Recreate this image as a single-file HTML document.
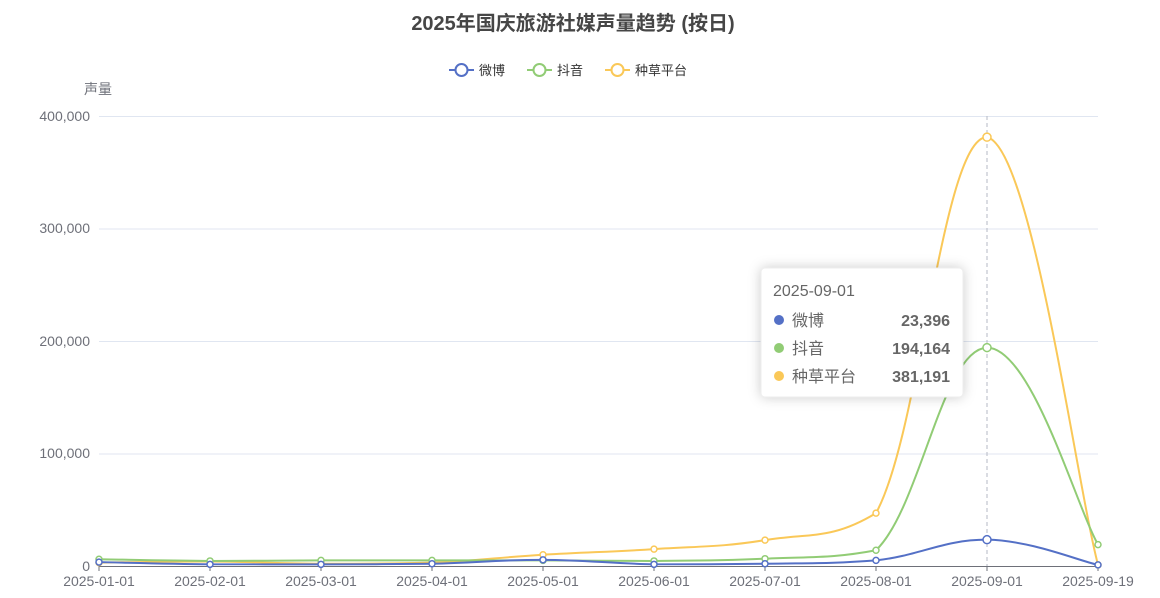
<!DOCTYPE html>
<html><head><meta charset="utf-8"><style>
body{margin:0;background:#fff;font-family:"Liberation Sans","Noto Sans CJK SC",sans-serif}
</style></head><body>
<svg id="s" width="1160" height="593" xmlns="http://www.w3.org/2000/svg" font-family="Liberation Sans, Noto Sans CJK SC, sans-serif">
<text x="573" y="30" text-anchor="middle" font-size="20" font-weight="bold" fill="#464646">2025年国庆旅游社媒声量趋势 (按日)</text>
<g font-size="13" fill="#333">
<line x1="449" y1="70" x2="474" y2="70" stroke="#5470c6" stroke-width="2"/><circle cx="461.5" cy="70" r="6" fill="#fff" stroke="#5470c6" stroke-width="2"/><text x="479" y="75">微博</text>
<line x1="527" y1="70" x2="552" y2="70" stroke="#91cc75" stroke-width="2"/><circle cx="539.5" cy="70" r="6" fill="#fff" stroke="#91cc75" stroke-width="2"/><text x="557" y="75">抖音</text>
<line x1="605" y1="70" x2="630" y2="70" stroke="#fac858" stroke-width="2"/><circle cx="617.5" cy="70" r="6" fill="#fff" stroke="#fac858" stroke-width="2"/><text x="635" y="75">种草平台</text>
</g>
<text x="84" y="94" font-size="14" fill="#6e7079">声量</text>
<g stroke="#e0e6f1" stroke-width="1">
<line x1="99" y1="116.5" x2="1098" y2="116.5"/><line x1="99" y1="229" x2="1098" y2="229"/><line x1="99" y1="341.5" x2="1098" y2="341.5"/><line x1="99" y1="454" x2="1098" y2="454"/>
</g>
<g font-size="14" fill="#6e7079" text-anchor="end">
<text x="90" y="121">400,000</text><text x="90" y="233">300,000</text><text x="90" y="346">200,000</text><text x="90" y="458">100,000</text><text x="90" y="571">0</text>
</g>
<line x1="987" y1="116" x2="987" y2="566" stroke="#b6bac4" stroke-dasharray="4,3"/>
<line x1="99" y1="566.5" x2="1098" y2="566.5" stroke="#6e7079"/>
<g id="ticks"></g>
<g id="series"></g>
<g>
<rect x="761" y="268" width="202" height="129" rx="4" fill="#fff" stroke="#eee" style="filter:drop-shadow(0 0 6px rgba(0,0,0,0.2))"/>
<text x="773" y="296" font-size="16" fill="#666">2025-09-01</text>
<circle cx="779" cy="320" r="5" fill="#5470c6"/><text x="792" y="326" font-size="16" fill="#666">微博</text><text x="950" y="326" font-size="16" font-weight="bold" fill="#666" text-anchor="end">23,396</text>
<circle cx="779" cy="348" r="5" fill="#91cc75"/><text x="792" y="354" font-size="16" fill="#666">抖音</text><text x="950" y="354" font-size="16" font-weight="bold" fill="#666" text-anchor="end">194,164</text>
<circle cx="779" cy="376" r="5" fill="#fac858"/><text x="792" y="382" font-size="16" fill="#666">种草平台</text><text x="950" y="382" font-size="16" font-weight="bold" fill="#666" text-anchor="end">381,191</text>
</g>
</svg>
<script>
var NS="http://www.w3.org/2000/svg";
var labels=["2025-01-01","2025-02-01","2025-03-01","2025-04-01","2025-05-01","2025-06-01","2025-07-01","2025-08-01","2025-09-01","2025-09-19"];
var xs=labels.map(function(_,i){return 99+i*111;});
var t=document.getElementById("ticks");
labels.forEach(function(l,i){
 var ln=document.createElementNS(NS,"line");ln.setAttribute("x1",xs[i]);ln.setAttribute("x2",xs[i]);ln.setAttribute("y1",566);ln.setAttribute("y2",571);ln.setAttribute("stroke","#6e7079");t.appendChild(ln);
 var tx=document.createElementNS(NS,"text");tx.setAttribute("x",xs[i]);tx.setAttribute("y",586);tx.setAttribute("font-size","14");tx.setAttribute("fill","#6e7079");tx.setAttribute("text-anchor","middle");tx.textContent=l;t.appendChild(tx);
});
function Y(v){return 566-v*450/400000;}
var data=[
 ["#fac858",[3000,4000,2000,3000,10000,15000,23000,47000,381191,1000]],
 ["#91cc75",[6000,4500,5000,5000,5000,4500,6500,14000,194164,19000]],
 ["#5470c6",[3500,1500,1500,2000,5500,1500,2000,5000,23396,1000]]
];
function cl(v,a,b){var lo=Math.min(a,b),hi=Math.max(a,b);return Math.max(lo,Math.min(hi,v));}
var g=document.getElementById("series");
data.forEach(function(d){
 var p=d[1].map(function(v,i){return [xs[i],Y(v)];});
 var k=0.2,s="M"+p[0][0]+","+p[0][1];
 for(var i=0;i<p.length-1;i++){
  var a=p[i-1]||p[i],b=p[i],c=p[i+1],e=p[i+2]||c;
  var c1=[b[0]+(c[0]-a[0])*k,cl(b[1]+(c[1]-a[1])*k,b[1],c[1])],c2=[c[0]-(e[0]-b[0])*k,cl(c[1]-(e[1]-b[1])*k,b[1],c[1])];
  s+=" C"+c1+" "+c2+" "+c;
 }
 var path=document.createElementNS(NS,"path");path.setAttribute("d",s);path.setAttribute("fill","none");path.setAttribute("stroke",d[0]);path.setAttribute("stroke-width","2");g.appendChild(path);
 p.forEach(function(q,i){var c=document.createElementNS(NS,"circle");c.setAttribute("cx",q[0]);c.setAttribute("cy",q[1]);c.setAttribute("r",i==8?4:3);c.setAttribute("fill","#fff");c.setAttribute("stroke",d[0]);c.setAttribute("stroke-width","1.5");g.appendChild(c);});
});
</script>
</body></html>
